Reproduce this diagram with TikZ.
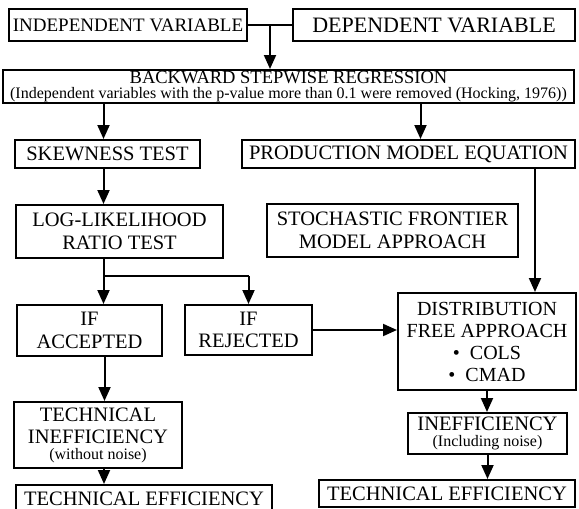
\documentclass[tikz,border=0pt]{standalone}
\usepackage{fontspec}
\setmainfont{Liberation Serif}
\usetikzlibrary{arrows.meta,positioning,calc}
\tikzset{
  box/.style={draw, line width=2pt, inner sep=0pt, align=center, font=\fontsize{20.5}{22.5}\selectfont},
  arrow/.style={-{Triangle[length=14pt,width=12pt]}, line width=2pt},
  link/.style={line width=2pt}
}
\newcommand{\subtxt}[1]{{\fontsize{16}{14}\selectfont #1}}

\begin{document}
\begin{tikzpicture}[x=1pt,y=-1pt]
  \useasboundingbox (0,0) rectangle (579,509);
  \node[box, minimum width=238pt, minimum height=32pt, font=\fontsize{19}{21}\selectfont] (indep) at (128,25) {INDEPENDENT VARIABLE};
  \node[box, minimum width=282pt, minimum height=32pt, font=\fontsize{22}{24}\selectfont] (dep) at (434,25) {DEPENDENT VARIABLE};
  \node[box, minimum width=571pt, minimum height=33pt, font=\fontsize{18.5}{20}\selectfont] (bsr) at (288.5,86.5) {BACKWARD STEPWISE REGRESSION\\[-5pt]\subtxt{(Independent variables with the p-value more than 0.1 were removed (Hocking, 1976))}};
  \node[box, minimum width=185pt, minimum height=28pt] (skew) at (107.5,154) {SKEWNESS TEST};
  \node[box, minimum width=333pt, minimum height=28pt] (prod) at (408.5,154) {PRODUCTION MODEL EQUATION};
  \node[box, minimum width=207pt, minimum height=53pt] (llr) at (119.5,231.5) {LOG-LIKELIHOOD\\RATIO TEST};
  \node[box, minimum width=251pt, minimum height=53pt] (sfm) at (392.5,230.5) {STOCHASTIC FRONTIER\\MODEL APPROACH};
  \node[box, minimum width=145pt, minimum height=51pt] (ifa) at (89.5,330.5) {IF\\ACCEPTED};
  \node[box, minimum width=127pt, minimum height=50pt] (ifr) at (248.5,330) {IF\\REJECTED};
  \node[box, minimum width=178pt, minimum height=97pt, font=\fontsize{20}{22}\selectfont] (dist) at (487,341.5) {DISTRIBUTION\\FREE APPROACH\\\textbullet\ \ COLS\\\textbullet\ \ CMAD};
  \node[box, minimum width=168pt, minimum height=66pt] (tie) at (98,435) {TECHNICAL\\INEFFICIENCY\\[-7pt]\subtxt{(without noise)}};
  \node[box, minimum width=159pt, minimum height=41pt] (ine) at (487.5,433.5) {INEFFICIENCY\\[-7pt]\subtxt{(Including noise)}};
  \node[box, minimum width=256pt, minimum height=28pt] (teA) at (144,499) {TECHNICAL EFFICIENCY};
  \node[box, minimum width=256pt, minimum height=27pt] (teB) at (447,493.5) {TECHNICAL EFFICIENCY};

  \coordinate (join) at ($(indep.east)!0.5!(dep.west)$);
  \coordinate (stem) at ([xshift=-4pt]skew.south);
  \coordinate (fork) at ($(stem |- llr.south)+(0,17)$);
  \draw[link] (indep.east) -- (dep.west);
  \draw[arrow] (join) -- (join |- bsr.north);
  \draw[arrow] (stem |- bsr.south) -- (stem |- skew.north);
  \draw[arrow] ([xshift=12pt]prod.north |- bsr.south) -- ([xshift=12pt]prod.north);
  \draw[arrow] (stem) -- (stem |- llr.north);
  \draw[link] (stem |- llr.south) -- (fork) -- (fork -| ifr.north);
  \draw[arrow] (fork) -- (fork |- ifa.north);
  \draw[arrow] (fork -| ifr.north) -- (ifr.north);
  \draw[arrow] ([xshift=126.5pt]prod.south) -- ([xshift=126.5pt]prod.south |- dist.north);
  \draw[arrow] (ifr.east) -- (ifr.east -| dist.west);
  \draw[arrow] ([xshift=15pt]ifa.south) -- ([xshift=15pt]ifa.south |- tie.north);
  \draw[arrow] ([xshift=6pt]tie.south) -- ([xshift=6pt]tie.south |- teA.north);
  \draw[arrow] (dist.south) -- (dist.south |- ine.north);
  \draw[arrow] (ine.south) -- (ine.south |- teB.north);
\end{tikzpicture}
\end{document}
